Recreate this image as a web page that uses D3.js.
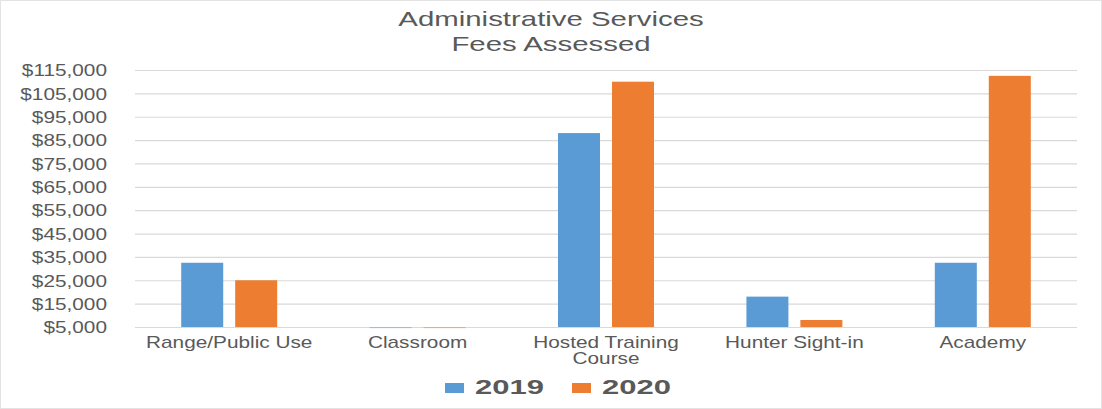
<!DOCTYPE html>
<html><head><meta charset="utf-8">
<script src="https://cdn.jsdelivr.net/npm/d3@7"></script>
<style>body{margin:0;background:#fff}svg{display:block}</style>
</head><body><svg id="c" width="1102" height="409"></svg>
<script>
const categories = ["Range/Public Use", "Classroom", "Hosted Training Course", "Hunter Sight-in", "Academy"];
const series = ["2019", "2020"];
const values2019 = [32500, 4500, 88000, 18000, 32500];
const values2020 = [25000, 4500, 110000, 8000, 112500];
const yTicks = [5000, 15000, 25000, 35000, 45000, 55000, 65000, 75000, 85000, 95000, 105000, 115000];
const titleLines = ["Administrative Services", "Fees Assessed"];
const colors = ["#5B9BD5", "#ED7D31"];

const W = 1102, H = 409;
const SX = 1.3; // horizontal stretch of the reference text
const FONT = "'Liberation Sans', Arial, Helvetica, sans-serif";
const TXT = "#595959";
const m = {left: 135, right: 25, top: 70, bottom: 82};

const svg = d3.select("#c");
svg.append("rect").attr("x", 0.5).attr("y", 0.5).attr("width", W - 1).attr("height", H - 1)
  .attr("fill", "#fff").attr("stroke", "#e3e3e3");

const x0 = d3.scaleBand().domain(categories).range([m.left, W - m.right]).padding(0);
const x1 = d3.scaleBand().domain(series).range([0, x0.bandwidth()]).paddingInner(0.222).paddingOuter(0.856);
const y = d3.scaleLinear().domain([5000, 115000]).range([H - m.bottom, m.top]);
const color = d3.scaleOrdinal().domain(series).range(colors);

// title
const tg = svg.append("g");
titleLines.forEach((t, i) => {
  tg.append("text").attr("transform", `translate(551,${26 + i * 25}) scale(1.4,1)`)
    .attr("text-anchor", "middle").attr("font-family", FONT).attr("font-size", 21)
    .attr("fill", TXT).text(t);
});

// y axis + gridlines
const yAxis = d3.axisLeft(y).tickValues(yTicks)
  .tickSize(-(W - m.left - m.right)).tickPadding(0)
  .tickFormat(d => "$" + d3.format(",")(d));
const ga = svg.append("g").attr("transform", `translate(${m.left},0)`).call(yAxis);
ga.select(".domain").remove();
ga.selectAll(".tick line").attr("stroke", "#d9d9d9").attr("stroke-width", 1.2);
ga.selectAll(".tick text").attr("x", null).attr("dy", "0.36em")
  .attr("transform", `translate(-28,0) scale(${SX},1)`)
  .attr("font-family", FONT).attr("font-size", 16).attr("fill", TXT);

// bars
const data = categories.map((c, i) => ({cat: c, vals: [values2019[i], values2020[i]]}));
const groups = svg.append("g").selectAll("g").data(data).join("g")
  .attr("transform", d => `translate(${x0(d.cat)},0)`);
groups.selectAll("rect").data(d => d.vals.map((v, j) => ({s: series[j], v})))
  .join("rect")
  .attr("x", d => x1(d.s)).attr("width", x1.bandwidth())
  .attr("y", d => Math.min(y(d.v), y(5000)))
  .attr("height", d => Math.max(1, Math.abs(y(5000) - y(d.v))))
  .attr("fill", d => color(d.s))
  .attr("opacity", d => d.v < 5000 ? 0.45 : 1);

// x axis
const xAxis = d3.axisBottom(x0).tickSize(0).tickPadding(0);
const gx = svg.append("g").attr("transform", `translate(0,${y(5000)})`).call(xAxis);
gx.select(".domain").remove();
gx.selectAll(".tick text").each(function(d) {
  const t = d3.select(this);
  t.text(null).attr("y", null).attr("dy", null)
    .attr("transform", `translate(0,21) scale(${SX},1)`)
    .attr("font-family", FONT).attr("font-size", 16).attr("fill", TXT);
  const words = d.split(" ");
  let lines = [], cur = [];
  const probe = t.append("tspan");
  words.forEach(w => {
    const test = cur.concat([w]).join(" ");
    probe.text(test);
    if (probe.node().getComputedTextLength() * SX > x0.bandwidth() - 10 && cur.length) {
      lines.push(cur.join(" ")); cur = [w];
    } else cur.push(w);
  });
  lines.push(cur.join(" "));
  probe.remove();
  lines.forEach((l, i) => t.append("tspan").attr("x", 0).attr("dy", i ? 16 : 0).text(l));
});

// legend
const lg = svg.append("g").attr("transform", "translate(445,383)");
const legX = [0, 127];
series.forEach((s, i) => {
  const g = lg.append("g").attr("transform", `translate(${legX[i]},0)`);
  g.append("rect").attr("width", 19).attr("height", 10).attr("fill", color(s));
  g.append("text").attr("transform", `translate(30,10.5) scale(1.55,1)`)
    .attr("font-family", FONT).attr("font-size", 20).attr("font-weight", "bold")
    .attr("fill", TXT).text(s);
});
</script></body></html>
